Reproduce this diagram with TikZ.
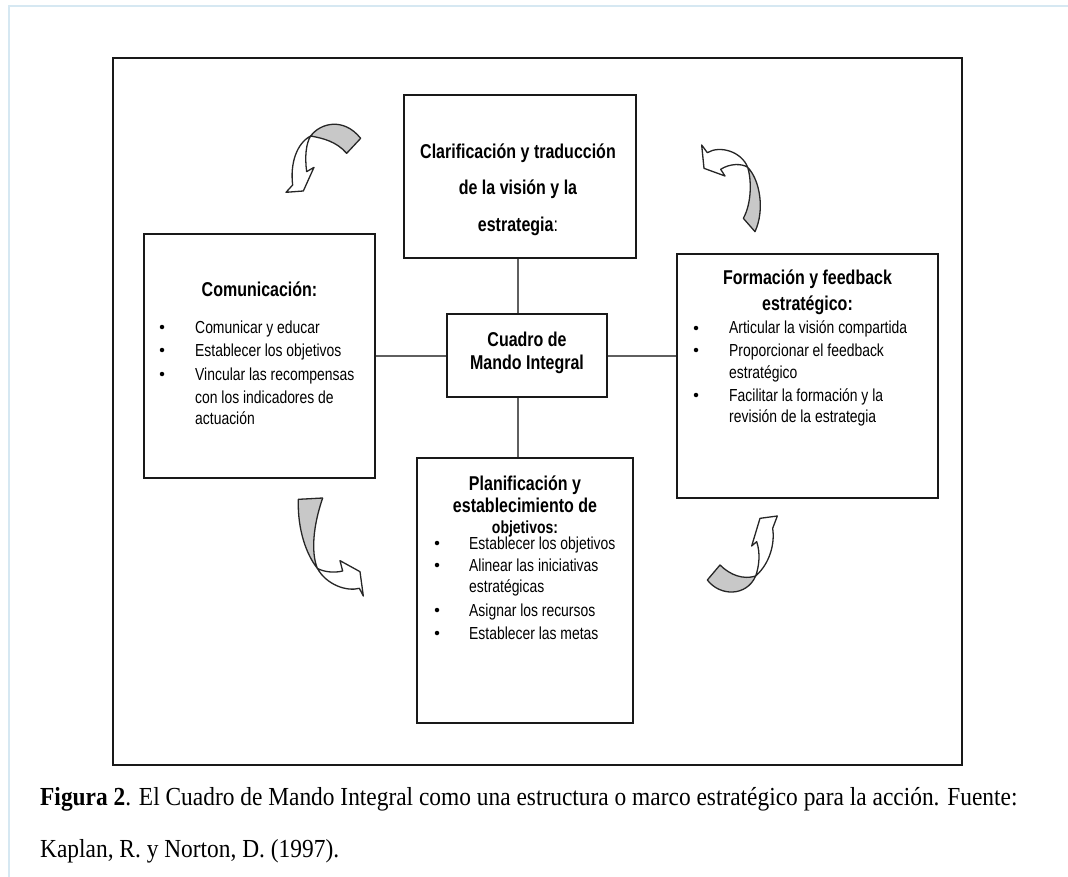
\documentclass[tikz,border=0pt]{standalone}
\usepackage{fontspec}
\setmainfont[FakeStretch=0.9]{Liberation Serif}
\newfontfamily\sfn[FakeStretch=0.8]{Liberation Sans}
\definecolor{frameblue}{RGB}{214,232,242}
\definecolor{connc}{RGB}{95,95,95}
\definecolor{arrgrey}{RGB}{200,200,200}
\tikzset{
  box/.style={draw=black!90, line width=1.7pt, fill=white, inner sep=0pt},
  conn/.style={draw=connc, line width=2pt},
  ttl/.style={font=\sfn\bfseries\fontsize{20}{24}\selectfont, inner sep=0pt, anchor=base},
  itm/.style={font=\sfn\fontsize{17.4}{20}\selectfont, inner sep=0pt, anchor=base west},
  bul/.style={circle, fill=black, inner sep=0pt, minimum size=4.5pt},
  capt/.style={font=\fontsize{26}{30}\selectfont, inner sep=0pt, anchor=base west},
  arrg/.style={draw=black!85, line width=1.3pt, fill=arrgrey, line join=round},
  arrw/.style={draw=black!85, line width=1.3pt, fill=white, line join=round},
}
\begin{document}
\begin{tikzpicture}[x=1pt,y=-1pt]
\useasboundingbox (0,0) rectangle (1068,877);
% light page border
\draw[frameblue, line width=1.5pt] (9,877) -- (9,6) -- (1068,6);
% outer frame
\draw[black!90, line width=1.7pt] (113,58) rectangle (962,765);

% boxes
\node[box, minimum width=232pt, minimum height=163pt] (vis) at (520,176.5) {};
\node[box, minimum width=231pt, minimum height=244pt] (com) at (259.5,356) {};
\node[box, minimum width=261pt, minimum height=244pt] (for) at (807.5,376) {};
\node[box, minimum width=216pt, minimum height=265pt] (pla) at (525,590.5) {};
\node[box, minimum width=160pt, minimum height=83pt] (cmi) at (527,355.5) {};

% connectors
\coordinate (vx) at (518,0);
\draw[conn] (vis.south -| vx) -- (cmi.north -| vx);
\draw[conn] (cmi.south -| vx) -- (pla.north -| vx);
\draw[conn] (com.east |- cmi.west) -- (cmi.west);
\draw[conn] (cmi.east) -- (for.west |- cmi.east);

% top box text
\node[ttl] (v1) at (518,159) {Clarificación y traducción};
\node[ttl] (v2) at (518,195) {de la visión y la};
\node[ttl] (v3) at (518,232) {estrategia\textmd{:}};

% centre text
\node[ttl] (c1) at (527,346) {Cuadro de};
\node[ttl] (c2) at (527,369) {Mando Integral};

% left box
\node[ttl] (l0) at (259.5,297) {Comunicación:};
\node[bul] (lb1) at (162,327) {};
\node[itm] (l1) at (195,333) {Comunicar y educar};
\node[bul] (lb2) at (162,350) {};
\node[itm] (l2) at (195,356) {Establecer los objetivos};
\node[bul] (lb3) at (162,374) {};
\node[itm] (l3) at (195,380) {Vincular las recompensas};
\node[itm] (l4) at (195,403) {con los indicadores de};
\node[itm] (l5) at (195,424) {actuación};

% right box
\node[ttl] (r0) at (807.5,284) {Formación y feedback};
\node[ttl] (r0b) at (807.5,310) {estratégico:};
\node[bul] (rb1) at (696,328) {};
\node[itm] (r1) at (729,334) {Articular la visión compartida};
\node[bul] (rb2) at (696,350) {};
\node[itm] (r2) at (729,356) {Proporcionar el feedback};
\node[itm] (r3) at (729,378) {estratégico};
\node[bul] (rb3) at (696,395) {};
\node[itm] (r4) at (729,401) {Facilitar la formación y la};
\node[itm] (r5) at (729,422) {revisión de la estrategia};

% bottom box
\node[ttl] (p0) at (525,490) {Planificación y};
\node[ttl] (p0b) at (525,512) {establecimiento de};
\node[ttl, font=\sfn\bfseries\fontsize{17.5}{20}\selectfont] (p0c) at (525,533) {objetivos:};
\node[bul] (pb1) at (437,543) {};
\node[itm] (p1) at (469,549) {Establecer los objetivos};
\node[bul] (pb2) at (437,565) {};
\node[itm] (p2) at (469,571) {Alinear las iniciativas};
\node[itm] (p3) at (469,592) {estratégicas};
\node[bul] (pb3) at (437,610) {};
\node[itm] (p4) at (469,616) {Asignar los recursos};
\node[bul] (pb4) at (437,633) {};
\node[itm] (p5) at (469,639) {Establecer las metas};

% curved arrows
\begin{scope}[shift={(270,110)}, scale=0.3333]
  \draw[arrg] (122,78) .. controls (150,40) and (220,20) .. (272,85) -- (230,130)
        .. controls (200,95) and (160,85) .. (122,78) -- cycle;
  \draw[arrw] (122,78) .. controls (80,100) and (60,160) .. (68,225) -- (48,247) -- (100,243)
        -- (132,172) -- (110,185) .. controls (104,140) and (108,100) .. (122,78) -- cycle;
\end{scope}
\begin{scope}[shift={(680,130)}, scale=0.3333]
  \draw[arrg] (203,112) .. controls (240,150) and (255,240) .. (225,305) -- (190,265)
        .. controls (215,220) and (215,150) .. (203,112) -- cycle;
  \draw[arrw] (203,112) .. controls (185,65) and (120,45) .. (82,68) -- (65,45) -- (72,115)
        -- (135,138) -- (122,118) .. controls (150,100) and (185,100) .. (203,112) -- cycle;
\end{scope}
\begin{scope}[shift={(280,520)}, scale=0.3333]
  \draw[arrg] (55,-62) .. controls (52,30) and (80,105) .. (112,145)
        .. controls (98,110) and (92,40) .. (128,-66) -- cycle;
  \draw[arrw] (112,145) .. controls (140,195) and (200,215) .. (238,205) -- (250,228) -- (240,155)
        -- (180,122) -- (188,153) .. controls (160,160) and (130,155) .. (112,145) -- cycle;
\end{scope}
\begin{scope}[shift={(690,510)}, scale=0.3333]
  \draw[arrg] (90,165) -- (52,210) .. controls (90,260) and (170,260) .. (197,198)
        .. controls (160,210) and (120,195) .. (90,165) -- cycle;
  \draw[arrw] (197,198) .. controls (240,160) and (255,100) .. (248,55) -- (262,18) -- (210,25)
        -- (185,108) -- (200,95) .. controls (212,130) and (207,170) .. (197,198) -- cycle;
\end{scope}

% caption
\node[capt] (cap1) at (40,805) {\textbf{Figura 2}. El Cuadro de Mando Integral como una estructura o marco estratégico para la acción. Fuente:};
\node[capt] (cap2) at (40,857) {Kaplan, R. y Norton, D. (1997).};
\end{tikzpicture}
\end{document}
